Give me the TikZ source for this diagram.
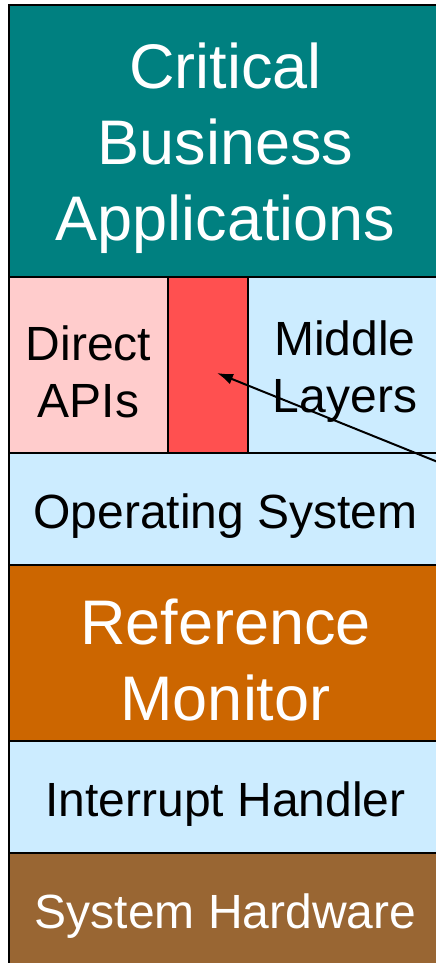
\documentclass[tikz,border=0pt]{standalone}
\usepackage{fontspec}
\setmainfont{Liberation Sans}
\usetikzlibrary{arrows.meta}
\definecolor{teal}{HTML}{008080}
\definecolor{apipink}{HTML}{FFCCCC}
\definecolor{hookred}{HTML}{FF5050}
\definecolor{sysblue}{HTML}{CCECFF}
\definecolor{monorange}{HTML}{CC6600}
\definecolor{hwbrown}{HTML}{996633}
\tikzset{%
	layer/.style={inner sep=0pt,outer sep=0pt,shape=rectangle,draw=black,line width=2.8pt,anchor=north west},
	caption/.style={align=center,yshift=-7pt},
	bigtext/.style={caption,font=\fontsize{63}{76}\selectfont},
	midtext/.style={caption,font=\fontsize{48}{57}\selectfont},
	pointer/.style={-{Latex[length=16pt,width=11pt]},line width=2pt},
}

\begin{document}
\begin{tikzpicture}[x=1pt,y=-1pt]
			\useasboundingbox (0,0) rectangle (436,963);
			\clip (0,0) rectangle (436,963);
			% layers of the stack
			\node[layer, fill=teal, minimum width=433pt, minimum height=272pt] (apps) at (9,5) {};
			\node[layer, fill=apipink, minimum width=159pt, minimum height=176pt] (direct) at (9,277) {};
			\node[layer, fill=hookred, minimum width=80pt, minimum height=176pt] (hook) at (168,277) {};
			\node[layer, fill=sysblue, minimum width=194pt, minimum height=176pt] (middle) at (248,277) {};
			\node[layer, fill=sysblue, minimum width=433pt, minimum height=112pt] (os) at (9,453) {};
			\node[layer, fill=monorange, minimum width=433pt, minimum height=176pt] (refmon) at (9,565) {};
			\node[layer, fill=sysblue, minimum width=433pt, minimum height=112pt] (intr) at (9,741) {};
			\node[layer, fill=hwbrown, minimum width=433pt, minimum height=120pt] (hw) at (9,853) {};
			% labels
			\node[bigtext, text=white] (appslabel) at (apps.center) {Critical\\Business\\Applications};
			\node[midtext] (directlabel) at (direct.center) {Direct\\APIs};
			\node[midtext] (middlelabel) at (middle.center) {Middle\\Layers};
			\node[midtext] (oslabel) at (os.center) {Operating System};
			\node[bigtext, text=white] (refmonlabel) at (refmon.center) {Reference\\Monitor};
			\node[midtext] (intrlabel) at (intr.center) {Interrupt Handler};
			\node[midtext, text=white, yshift=4pt] (hwlabel) at (hw.center) {System Hardware};
			% pointer into the hook layer
			\coordinate (tail) at (480,479);
			\coordinate (tip) at (217,373);
			\draw[pointer] (tail) -- (tip);
		\end{tikzpicture}
\end{document}
